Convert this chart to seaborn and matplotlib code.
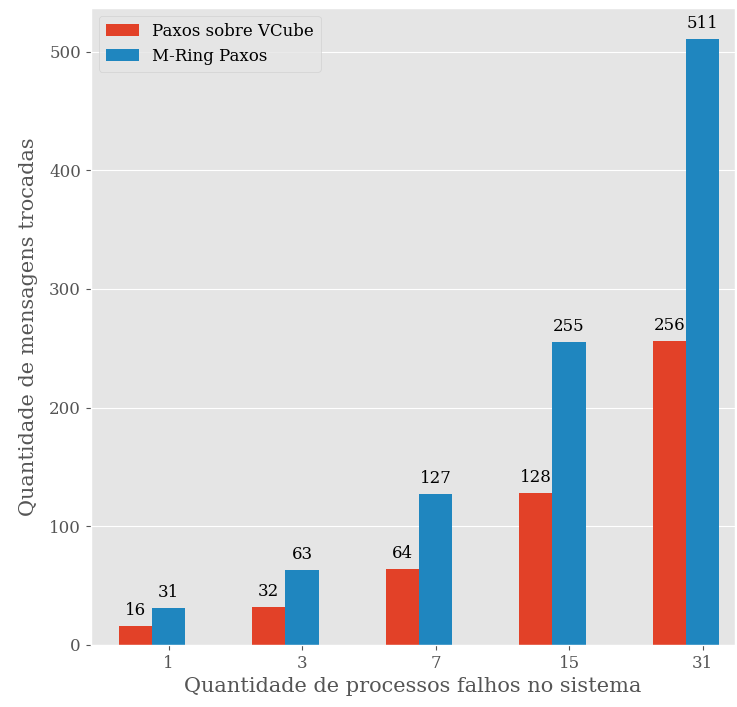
import matplotlib
matplotlib.use("Agg")
import matplotlib.pyplot as plt
import pandas as pd
import seaborn as sns

# data
falhos = ["1", "3", "7", "15", "31"]
vcube = [16, 32, 64, 128, 256]
mring = [31, 63, 127, 255, 511]
series = ["Paxos sobre VCube", "M-Ring Paxos"]

plt.style.use("ggplot")
plt.rcParams["font.family"] = ["DejaVu Serif"]

df = pd.DataFrame({
    "falhos": falhos * 2,
    "msgs": vcube + mring,
    "serie": [series[0]] * len(falhos) + [series[1]] * len(falhos),
})

fig = plt.figure(figsize=(7.37, 7.07), dpi=100)
ax = fig.add_axes([0.123, 0.088, 0.874, 0.901])

palette = {series[0]: "#E24128", series[1]: "#1F86BF"}
sns.barplot(data=df, x="falhos", y="msgs", hue="serie", palette=palette,
            width=0.5, ax=ax, saturation=1, edgecolor="none")

for cont in ax.containers:
    ax.bar_label(cont, padding=5, fontsize=12, color="black")

# ticks sit under the second bar of each group, as in the original
ax.set_xticks([i + 0.125 for i in range(len(falhos))])
ax.set_xticklabels(falhos)
ax.set_xlim(-0.459, 4.366)
ax.set_ylim(0, 537)
ax.set_xlabel("Quantidade de processos falhos no sistema", fontsize=15, color="#555555")
ax.set_ylabel("Quantidade de mensagens trocadas", fontsize=15, color="#555555", labelpad=8)
ax.tick_params(axis="both", labelsize=12, colors="#555555")
ax.legend(loc="upper left", fontsize=12, title=None)

fig.savefig("out.png", dpi=100)
